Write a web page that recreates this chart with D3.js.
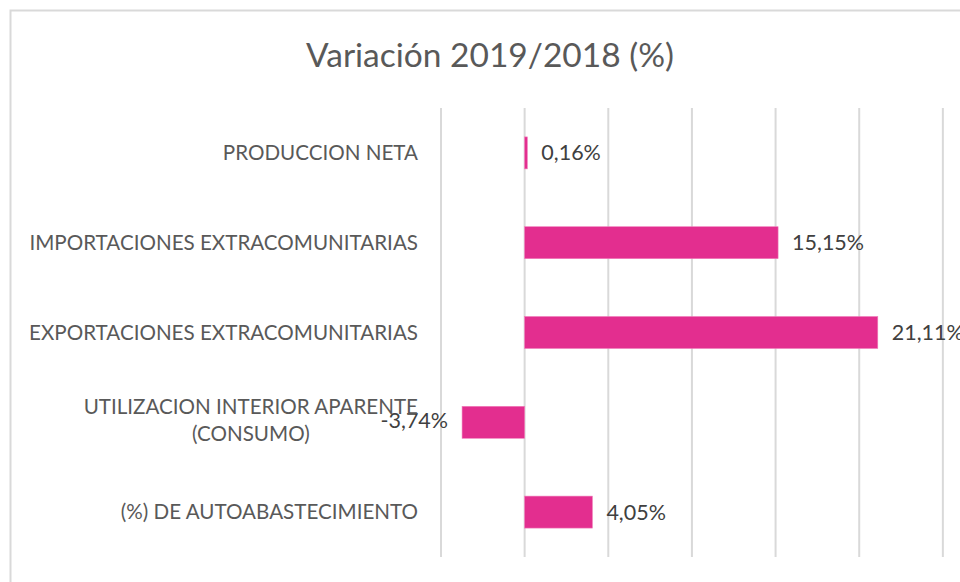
<!DOCTYPE html>
<html>
<head>
<meta charset="utf-8">
<script src="https://cdn.jsdelivr.net/npm/d3@7"></script>
<style>
  body { margin: 0; background: #fff; }
  svg { display: block; font-family: Lato, "Open Sans", sans-serif; }
</style>
</head>
<body>
<div id="chart"></div>
<script>
// chart data
var title = "Variación 2019/2018 (%)";
var categories = [
	["PRODUCCION NETA"],
	["IMPORTACIONES EXTRACOMUNITARIAS"],
	["EXPORTACIONES EXTRACOMUNITARIAS"],
	["UTILIZACION INTERIOR APARENTE", "(CONSUMO)"],
	["(%) DE AUTOABASTECIMIENTO"]
];
var values = [0.16, 15.15, 21.11, -3.74, 4.05];
var valueLabels = ["0,16%", "15,15%", "21,11%", "-3,74%", "4,05%"];
var gridTicks = [-5, 0, 5, 10, 15, 20, 25, 30];

var width = 960, height = 582;
var barColor = "#e32e8f";

var svg = d3.select("#chart").append("svg")
	.attr("width", width)
	.attr("height", height);

//outer frame, runs off the right and bottom edges
svg.append("rect")
	.attr("x", 10.5).attr("y", 10.5)
	.attr("width", 1000).attr("height", 700)
	.attr("fill", "#fff")
	.attr("stroke", "#d9d9d9")
	.attr("stroke-width", 2);

svg.append("text")
	.attr("x", 490).attr("y", 67)
	.attr("text-anchor", "middle")
	.attr("fill", "#595959")
	.style("font-size", "33.5px")
	.text(title);

//scales
var x = d3.scaleLinear().domain([-5, 30]).range([441, 1026.5]);
var y = d3.scaleBand()
	.domain(d3.range(categories.length))
	.range([108, 557])
	.paddingInner(0.644)
	.paddingOuter(0.322);

//gridlines
svg.append("g").selectAll("line")
	.data(gridTicks)
	.join("line")
	.attr("x1", function(d){ return x(d); })
	.attr("x2", function(d){ return x(d); })
	.attr("y1", 108).attr("y2", 557)
	.attr("stroke", "#d9d9d9")
	.attr("stroke-width", 2);

//bars
svg.append("g").selectAll("rect")
	.data(values)
	.join("rect")
	.attr("x", function(d){ return x(Math.min(0, d)); })
	.attr("y", function(d, i){ return y(i); })
	.attr("width", function(d){ return Math.abs(x(d) - x(0)); })
	.attr("height", y.bandwidth())
	.attr("fill", barColor)
	.attr("stroke", "#f07cba")
	.attr("stroke-width", 0.6);

//value labels
svg.append("g").selectAll("text")
	.data(values)
	.join("text")
	.attr("x", function(d){ return d < 0 ? x(d) - 14 : x(d) + 14; })
	.attr("y", function(d, i){ return y(i) + y.bandwidth() / 2 - (d < 0 ? 2 : 0); })
	.attr("dy", "0.35em")
	.attr("text-anchor", function(d){ return d < 0 ? "end" : "start"; })
	.attr("fill", "#404040")
	.style("font-size", "21.5px")
	.text(function(d, i){ return valueLabels[i]; });

//category labels, multi-line ones centred on each other
var cat = svg.append("g").selectAll("g")
	.data(categories)
	.join("g")
	.attr("transform", function(d, i){ return "translate(418," + (y(i) + y.bandwidth() / 2) + ")"; });

cat.each(function(lines){
	var g = d3.select(this);
	var t = g.append("text")
		.attr("fill", "#595959")
		.style("font-size", "20.6px")
		.attr("text-anchor", "middle");
	var lh = 27;
	lines.forEach(function(l, k){
		t.append("tspan")
			.attr("x", 0)
			.attr("y", (k - (lines.length - 1) / 2) * lh - (lines.length > 1 ? 2 : 0))
			.attr("dy", "0.35em")
			.text(l);
	});
	//shift so that the widest line ends at the axis side
	var w = t.node().getBBox().width;
	t.attr("transform", "translate(" + (-w / 2) + ",0)");
});
</script>
</body>
</html>
